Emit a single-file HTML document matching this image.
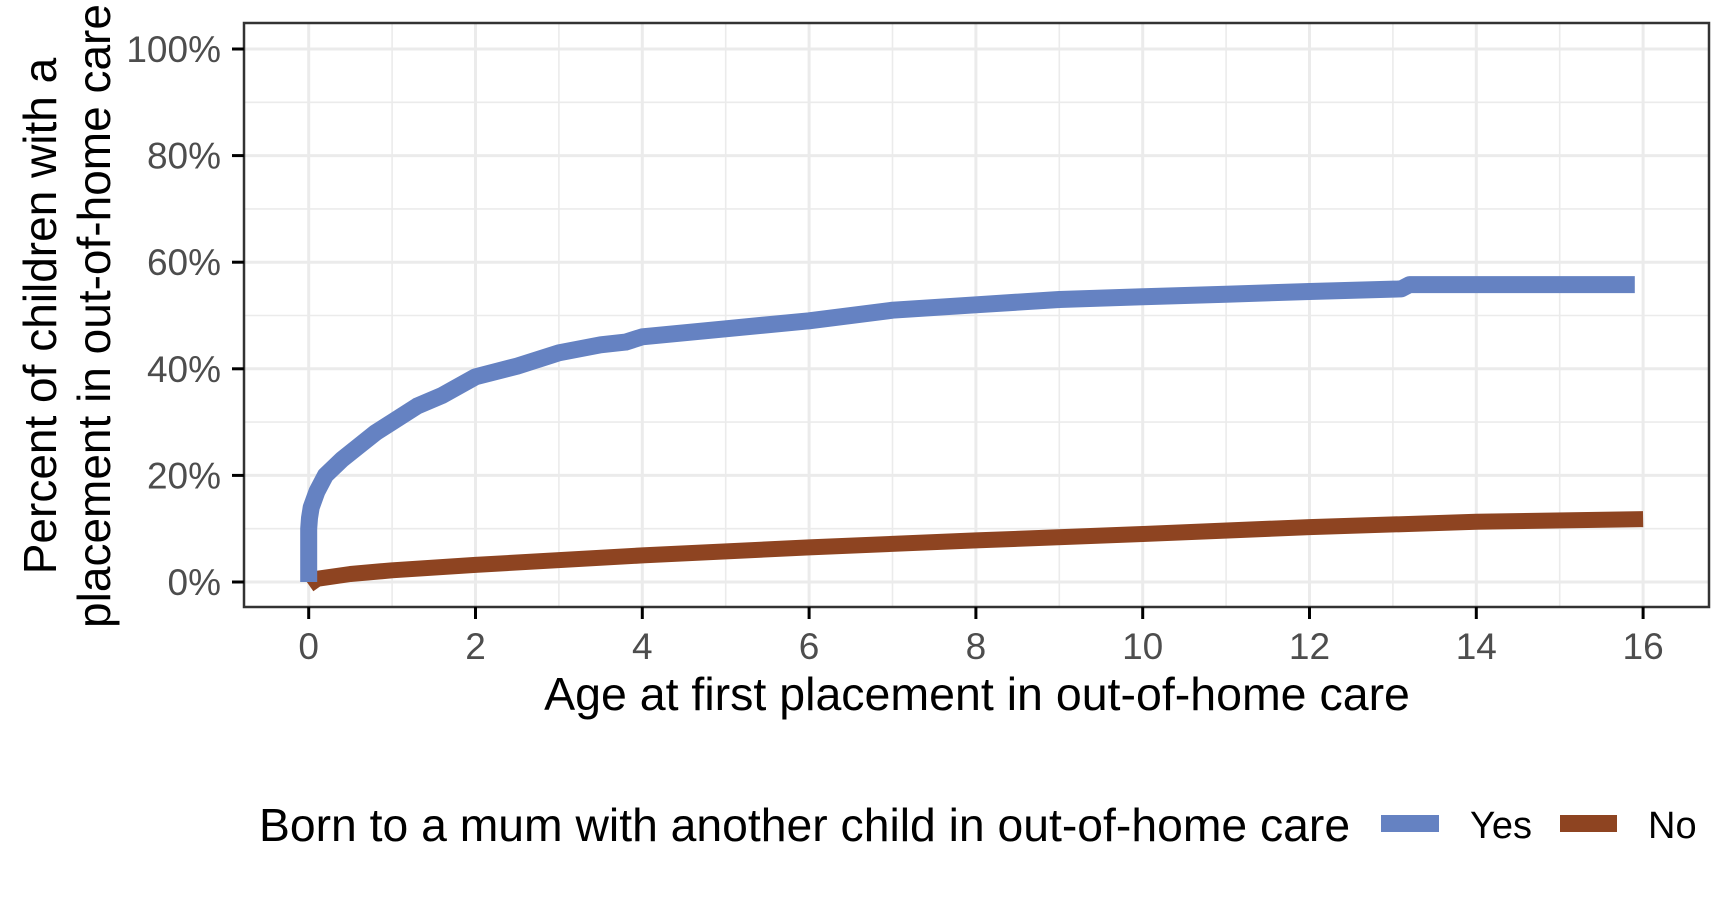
<!DOCTYPE html>
<html><head><meta charset="utf-8"><style>
html,body{margin:0;padding:0;background:#fff;}
svg{display:block;font-family:"Liberation Sans",Arial,sans-serif;}
</style></head><body>
<svg id="chart" width="1733" height="905" viewBox="0 0 1733 905">
<rect x="0" y="0" width="1733" height="905" fill="#fff"/>
<g id="grid"></g>
<g id="series"></g>
<rect x="244" y="23" width="1465" height="584" fill="none" stroke="#333" stroke-width="2.5"/>
<g id="axes"></g>
<text x="977" y="710" font-size="46.5" text-anchor="middle" fill="#000">Age at first placement in out-of-home care</text>
<g transform="translate(0,316) rotate(-90)">
<text x="0" y="56" font-size="46" text-anchor="middle" fill="#000">Percent of children with a</text>
<text x="0" y="110" font-size="46" text-anchor="middle" fill="#000">placement in out-of-home care</text>
</g>
<g>
<text x="259" y="841" font-size="46.3" fill="#000">Born to a mum with another child in out-of-home care</text>
<rect x="1381" y="815" width="58" height="17" fill="#6582C2"/>
<text x="1470" y="838" font-size="38" fill="#000">Yes</text>
<rect x="1560" y="815" width="57" height="17" fill="#8E4421"/>
<text x="1648" y="838" font-size="38" fill="#000">No</text>
</g>
</svg>
<script>
const xTicks = [0,2,4,6,8,10,12,14,16];
const yTicks = [0,20,40,60,80,100];
const yTickLabels = ["0%","20%","40%","60%","80%","100%"];
const yesAge = [0,0,0.01,0.03,0.1,0.2,0.4,0.6,0.8,1.0,1.3,1.6,2,2.5,3,3.5,3.8,4,5,6,7,8,9,10,11,12,13.1,13.2,15.9];
const yesPct = [0,10,12,14,17,20,23,25.5,28,30,33,35,38.5,40.5,43,44.5,45,46,47.5,49,51,52,53,53.5,54,54.5,55,55.8,55.8];
const noAge = [0,0.1,0.5,1,2,4,6,8,10,12,14,16];
const noPct = [-0.5,0.6,1.5,2.2,3.2,5,6.5,7.8,9,10.3,11.3,11.8];

const NS = "http://www.w3.org/2000/svg";
function X(a){ return 308.7 + 83.4*a; }
function Y(p){ return 582 - 5.33*p; }
function mk(tag, attrs, parent){ const e=document.createElementNS(NS,tag); for(const k in attrs) e.setAttribute(k,attrs[k]); parent.appendChild(e); return e; }
const grid=document.getElementById('grid'), axes=document.getElementById('axes'), series=document.getElementById('series');

for(let p=10;p<=90;p+=20){
  const l=mk('line',{x1:244,x2:1709,y1:Y(p),y2:Y(p),stroke:'#EBEBEB','stroke-width':1.6},grid);
  
  
}
for(let a=-1;a<=17;a+=2){
  if(X(a)<244||X(a)>1709) continue;
  const l=mk('line',{x1:X(a),x2:X(a),y1:23,y2:607,stroke:'#EBEBEB','stroke-width':1.6},grid);
  
  
}
yTicks.forEach((p,i)=>{
  const l=mk('line',{x1:244,x2:1709,y1:Y(p),y2:Y(p),stroke:'#EBEBEB','stroke-width':3},grid);
  
  
  const t=mk('line',{x1:232,x2:244,y1:Y(p),y2:Y(p),stroke:'#000','stroke-width':3},axes);
  
  
  const tx=mk('text',{x:221,y:Y(p)+13,'font-size':37,'text-anchor':'end',fill:'#4D4D4D'},axes);
  tx.textContent=yTickLabels[i];
  
  
});
xTicks.forEach(a=>{
  const l=mk('line',{x1:X(a),x2:X(a),y1:23,y2:607,stroke:'#EBEBEB','stroke-width':3},grid);
  
  
  const t=mk('line',{x1:X(a),x2:X(a),y1:607,y2:619,stroke:'#000','stroke-width':3},axes);
  
  
  const tx=mk('text',{x:X(a),y:659,'font-size':37,'text-anchor':'middle',fill:'#4D4D4D'},axes);
  tx.textContent=String(a);
  
  
});
function pathOf(ax,ay){ return ax.map((a,i)=>(i?'L':'M')+X(a).toFixed(1)+' '+Y(ay[i]).toFixed(1)).join(' '); }
const pn=mk('path',{d:pathOf(noAge,noPct),fill:'none',stroke:'#8E4421','stroke-width':16,'stroke-linejoin':'round'},series);


const py=mk('path',{d:pathOf(yesAge,yesPct),fill:'none',stroke:'#6582C2','stroke-width':17,'stroke-linejoin':'round'},series);


</script>
</body></html>
